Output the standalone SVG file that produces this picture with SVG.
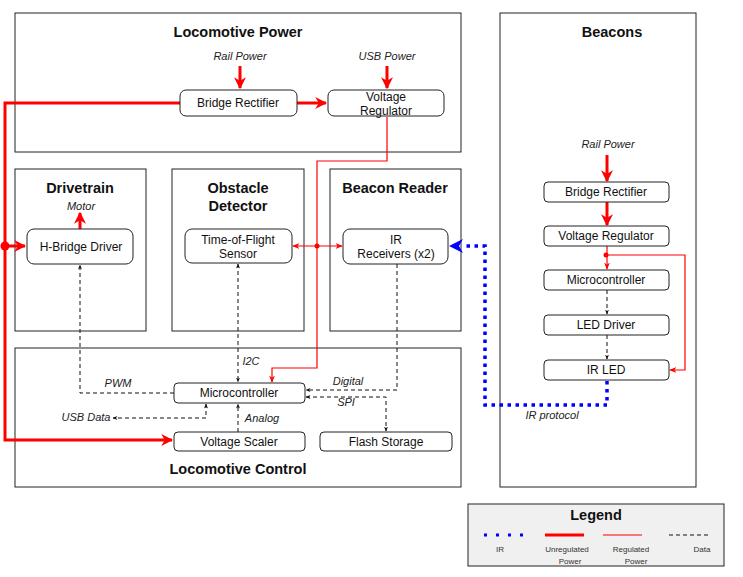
<svg xmlns="http://www.w3.org/2000/svg" width="743" height="577" viewBox="0 0 743 577">
<defs>
<style>
.cont{fill:#fff;stroke:#222;stroke-width:1}
.node{fill:#fff;stroke:#222;stroke-width:1}
.t{font-family:"Liberation Sans",Arial,sans-serif;font-size:12px;fill:#111;text-anchor:middle}
.ti{font-family:"Liberation Sans",Arial,sans-serif;font-size:14.5px;font-weight:bold;fill:#111;text-anchor:middle}
.lab{font-family:"Liberation Sans",Arial,sans-serif;font-size:11px;font-style:italic;fill:#222;text-anchor:middle}
.lg{font-family:"Liberation Sans",Arial,sans-serif;font-size:8px;fill:#333;text-anchor:middle}
.thick{fill:none;stroke:#f00;stroke-width:3}
.thin{fill:none;stroke:#f00;stroke-width:1.2}
.data{fill:none;stroke:#111;stroke-width:1;stroke-dasharray:4,3}
.ir{fill:none;stroke:#00f;stroke-width:3.5;stroke-dasharray:3.5,4.5}
</style>
<marker id="ah" viewBox="0 0 10 10" refX="9" refY="5" markerWidth="4" markerHeight="4" orient="auto" markerUnits="strokeWidth">
<path d="M0,0 L10,5 L0,10 L3,5 z" fill="#f00"/></marker>
<marker id="as" viewBox="0 0 10 10" refX="9" refY="5" markerWidth="6" markerHeight="6" orient="auto-start-reverse" markerUnits="strokeWidth">
<path d="M0,1 L10,5 L0,9 L3,5 z" fill="#f00"/></marker>
<marker id="ad" viewBox="0 0 10 10" refX="9" refY="5" markerWidth="5" markerHeight="5" orient="auto-start-reverse" markerUnits="userSpaceOnUse">
<path d="M0,1 L10,5 L0,9 L3,5 z" fill="#111"/></marker>
</defs>
<rect width="743" height="577" fill="#fff"/>

<g id="loco-power"><rect class="cont" x="15" y="13" width="446" height="139"/><text class="ti" x="238" y="37">Locomotive Power</text></g>
<g id="drivetrain"><rect class="cont" x="15" y="169" width="131" height="162"/><text class="ti" x="80" y="193">Drivetrain</text></g>
<g id="obstacle"><rect class="cont" x="172" y="169" width="132" height="162"/><text class="ti" x="238" y="193">Obstacle</text><text class="ti" x="238" y="211">Detector</text></g>
<g id="beacon-reader"><rect class="cont" x="330" y="169" width="131" height="162"/><text class="ti" x="395" y="193">Beacon Reader</text></g>
<g id="loco-control"><rect class="cont" x="15" y="348" width="446" height="139"/><text class="ti" x="238" y="474">Locomotive Control</text></g>
<g id="beacons"><rect class="cont" x="500" y="13" width="196" height="474"/><text class="ti" x="612" y="37">Beacons</text></g>

<g id="legend">
<rect x="468" y="504" width="256" height="62" fill="#f0f0f0" stroke="#222" stroke-width="1"/>
<text class="ti" x="596" y="520">Legend</text>
<line x1="484" y1="535" x2="524" y2="535" stroke="#00f" stroke-width="3" stroke-dasharray="3,9"/>
<line x1="545" y1="535" x2="584" y2="535" stroke="#f00" stroke-width="3"/>
<line x1="603" y1="535" x2="642" y2="535" stroke="#f00" stroke-width="1"/>
<line x1="669" y1="535" x2="709" y2="535" stroke="#111" stroke-width="1" stroke-dasharray="4,3"/>
<text class="lg" x="500" y="552">IR</text>
<text class="lg" x="567" y="552">Unregulated</text><text class="lg" x="570" y="564">Power</text>
<text class="lg" x="631" y="552">Regulated</text><text class="lg" x="636" y="564">Power</text>
<text class="lg" x="702" y="552">Data</text>
</g>

<g id="connectors">
<path class="thick" d="M180,103 H5 V440 H172" marker-end="url(#ah)"/>
<path class="thick" d="M5,246 H25" marker-end="url(#ah)"/>
<circle cx="5" cy="246" r="4.5" fill="#f00"/>
<path class="thick" d="M297,103 H326" marker-end="url(#ah)"/>
<path class="thick" d="M240,66 V88" marker-end="url(#ah)"/>
<path class="thick" d="M387,66 V88" marker-end="url(#ah)"/>
<path class="thick" d="M80,229 V213" marker-end="url(#ah)"/>
<path class="thick" d="M607,155 V181" marker-end="url(#ah)"/>
<path class="thick" d="M607,202 V225" marker-end="url(#ah)"/>
<path class="thin" d="M387,117 V161 H317 V368 H272 V382" marker-end="url(#as)"/>
<path class="thin" d="M293,246 H342" marker-start="url(#as)" marker-end="url(#as)"/>
<circle cx="317" cy="246" r="2.5" fill="#f00"/>
<path class="thin" d="M607,246 V269" marker-end="url(#as)"/>
<path class="thin" d="M606,255 H685 V370 H670" marker-end="url(#as)"/>
<circle cx="606" cy="255" r="2.5" fill="#f00"/>
<path class="data" d="M174,393 H80 V265" marker-end="url(#ad)"/>
<path class="data" d="M238,264 V382" marker-start="url(#ad)" marker-end="url(#ad)"/>
<path class="data" d="M206,404 V418 H113" marker-start="url(#ad)" marker-end="url(#ad)"/>
<path class="data" d="M238,432 V404" marker-end="url(#ad)"/>
<path class="data" d="M397,264 V390 H306" marker-end="url(#ad)"/>
<path class="data" d="M306,397 H386 V431" marker-start="url(#ad)" marker-end="url(#ad)"/>
<path class="data" d="M607,290 V314" marker-end="url(#ad)"/>
<path class="data" d="M607,335 V359" marker-end="url(#ad)"/>
<path class="ir" d="M607,381 V405 H485 V246 H462"/>
<path d="M449,246 L463,239 L459,246 L463,253 z" fill="#00f"/>
<text class="lab" x="240" y="60">Rail Power</text>
<text class="lab" x="387" y="60">USB Power</text>
<text class="lab" x="81" y="210">Motor</text>
<text class="lab" x="251" y="365">I2C</text>
<text class="lab" x="118" y="387">PWM</text>
<text class="lab" x="86" y="421">USB Data</text>
<text class="lab" x="262" y="422">Analog</text>
<text class="lab" x="348" y="385">Digital</text>
<text class="lab" x="346" y="406">SPI</text>
<text class="lab" x="608" y="148">Rail Power</text>
<text class="lab" x="552" y="419">IR protocol</text>
</g>

<g id="n-bridge"><rect class="node" x="180" y="90" width="117" height="26" rx="6"/><text class="t" x="238" y="107">Bridge Rectifier</text></g>
<g id="n-vreg"><rect class="node" x="328" y="90" width="116" height="26" rx="6"/><text class="t" x="386" y="101">Voltage</text><text class="t" x="386" y="115">Regulator</text></g>
<g id="n-hbridge"><rect class="node" x="27" y="229" width="106" height="35" rx="7"/><text class="t" x="81" y="251">H-Bridge Driver</text></g>
<g id="n-tof"><rect class="node" x="185" y="229" width="107" height="34" rx="7"/><text class="t" x="238" y="244">Time-of-Flight</text><text class="t" x="238" y="258">Sensor</text></g>
<g id="n-irrx"><rect class="node" x="343" y="229" width="105" height="35" rx="7"/><text class="t" x="396" y="244">IR</text><text class="t" x="396" y="258">Receivers (x2)</text></g>
<g id="n-mcu"><rect class="node" x="174" y="383" width="131" height="20" rx="4"/><text class="t" x="239" y="397">Microcontroller</text></g>
<g id="n-vscaler"><rect class="node" x="174" y="432" width="131" height="19" rx="4"/><text class="t" x="239" y="446">Voltage Scaler</text></g>
<g id="n-flash"><rect class="node" x="320" y="432" width="132" height="19" rx="4"/><text class="t" x="386" y="446">Flash Storage</text></g>
<g id="n-b-bridge"><rect class="node" x="544" y="182" width="125" height="20" rx="4"/><text class="t" x="606" y="196">Bridge Rectifier</text></g>
<g id="n-b-vreg"><rect class="node" x="544" y="226" width="125" height="20" rx="4"/><text class="t" x="606" y="240">Voltage Regulator</text></g>
<g id="n-b-mcu"><rect class="node" x="544" y="270" width="125" height="20" rx="4"/><text class="t" x="606" y="284">Microcontroller</text></g>
<g id="n-b-led"><rect class="node" x="544" y="315" width="125" height="20" rx="4"/><text class="t" x="606" y="329">LED Driver</text></g>
<g id="n-b-irled"><rect class="node" x="544" y="360" width="125" height="20" rx="4"/><text class="t" x="606" y="374">IR LED</text></g>
</svg>
